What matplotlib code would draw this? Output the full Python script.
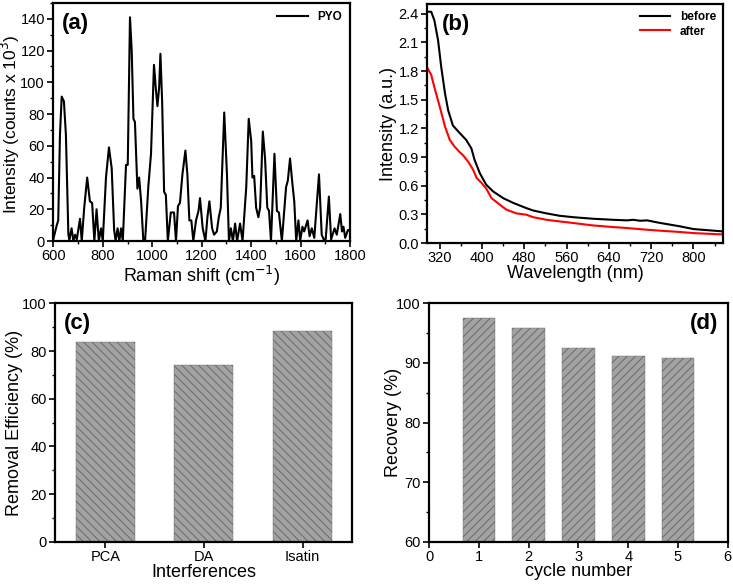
import numpy as np
import matplotlib
matplotlib.use("Agg")
import matplotlib.pyplot as plt
from matplotlib.ticker import MultipleLocator

plt.rcParams['font.family'] = ['Liberation Sans', 'DejaVu Sans']
plt.rcParams['hatch.linewidth'] = 0.7

# (a) Raman spectrum of PYO
raman_x = [600, 614, 620, 627, 634, 643, 651, 661, 665, 674, 681, 688, 695, 708, 715,
           725, 737, 748, 757, 766, 775, 784, 793, 800, 813, 825, 836, 846, 852, 860,
           867, 874, 881, 894, 901, 910, 917, 924, 930, 940, 947, 955, 964, 971, 984,
           995, 1007, 1015, 1021, 1028, 1033, 1040, 1048, 1055, 1063, 1075, 1088, 1096,
           1104, 1112, 1122, 1134, 1142, 1150, 1158, 1166, 1177, 1187, 1193, 1204, 1215,
           1223, 1231, 1242, 1250, 1261, 1269, 1277, 1291, 1302, 1310, 1318, 1326, 1335,
           1343, 1355, 1365, 1380, 1390, 1400, 1405, 1412, 1420, 1429, 1436, 1447, 1456,
           1465, 1472, 1480, 1494, 1504, 1512, 1524, 1541, 1548, 1557, 1566, 1574, 1582,
           1591, 1598, 1607, 1614, 1628, 1636, 1645, 1655, 1674, 1685, 1693, 1701, 1714,
           1723, 1737, 1746, 1760, 1767, 1773, 1780, 1791, 1800]
raman_y = [1, 10, 13, 67, 91, 88, 67, 4, 1, 8, 0, 4, 1, 14, 0,
           21, 40, 25, 24, 0, 20, 0, 8, 0, 40, 59, 46, 7, 0, 8,
           0, 8, 0, 48, 48, 141, 120, 77, 75, 33, 40, 25, 0, 0, 34,
           55, 111, 95, 85, 97, 118, 88, 31, 29, 0, 18, 18, 0,
           22, 24, 42, 57, 42, 13, 13, 0, 13, 19, 27, 8, 0,
           15, 25, 8, 4, 6, 15, 21, 81, 42, 0, 8, 0, 11,
           0, 11, 0, 34, 77, 63, 40, 41, 21, 15, 21, 69, 52,
           21, 19, 0, 55, 19, 18, 0, 34, 38, 52, 37, 25, 0,
           13, 0, 9, 6, 13, 3, 8, 2, 42, 4, 1, 1, 28,
           1, 8, 4, 17, 6, 9, 2, 7, 6]

# (b) UV-vis before / after
wl_before = [297, 304, 310, 317, 323, 330, 336, 345, 358, 370, 380, 386, 396, 408, 421,
             440, 459, 484, 497, 522, 547, 573, 610, 648, 674, 686, 699, 712, 737, 775,
             800, 832, 854]
abs_before = [2.42, 2.42, 2.33, 2.12, 1.84, 1.57, 1.39, 1.23, 1.15, 1.08, 0.99, 0.87, 0.73,
              0.61, 0.54, 0.47, 0.42, 0.365, 0.34, 0.31, 0.285, 0.27, 0.254, 0.243, 0.237,
              0.243, 0.233, 0.237, 0.21, 0.174, 0.146, 0.132, 0.122]
wl_after = [297, 304, 310, 320, 330, 339, 348, 358, 364, 374, 383, 390, 399, 408, 418,
            434, 446, 465, 484, 497, 522, 547, 573, 610, 648, 674, 712, 737, 775, 800, 854]
abs_after = [1.83, 1.76, 1.63, 1.43, 1.22, 1.08, 1.01, 0.95, 0.92, 0.85, 0.77, 0.68, 0.63,
             0.57, 0.47, 0.40, 0.35, 0.31, 0.296, 0.27, 0.243, 0.226, 0.209, 0.184, 0.167,
             0.157, 0.139, 0.129, 0.115, 0.104, 0.09]

# (c) removal efficiency
interferences = ['PCA', 'DA', 'Isatin']
removal = [83.7, 74.1, 88.2]

# (d) recovery per cycle
cycles = [1, 2, 3, 4, 5]
recovery = [97.6, 95.9, 92.5, 91.2, 90.85]

fig = plt.figure(figsize=(7.33, 5.87), dpi=100)
axa = fig.add_axes([0.0727, 0.5894, 0.405, 0.4055])
axb = fig.add_axes([0.5825, 0.586, 0.404, 0.407])
axc = fig.add_axes([0.075, 0.0772, 0.405, 0.406])
axd = fig.add_axes([0.5857, 0.0772, 0.407, 0.406])

LAB = 13
for ax in (axa, axb, axc, axd):
    for s in ax.spines.values():
        s.set_linewidth(1.6)
    ax.tick_params(which='major', direction='out', length=4, width=1.2, labelsize=10.5, pad=2)
    ax.tick_params(which='minor', direction='out', length=2, width=1.0)

# (a)
axa.plot(raman_x, raman_y, color='black', lw=1.5, label='PYO')
axa.set_xlim(600, 1800)
axa.set_ylim(0, 150)
axa.xaxis.set_major_locator(MultipleLocator(200))
axa.xaxis.set_minor_locator(MultipleLocator(100))
axa.yaxis.set_major_locator(MultipleLocator(20))
axa.yaxis.set_minor_locator(MultipleLocator(10))
axa.set_xlabel('Raman shift (cm$^{-1}$)', fontsize=LAB)
axa.set_ylabel('Intensity (counts x 10$^{3}$)', fontsize=12.5)
axa.yaxis.set_label_coords(-0.105, 0.49)
axa.xaxis.set_label_coords(0.5, -0.098)
axa.text(0.03, 0.96, '(a)', transform=axa.transAxes, fontsize=16, fontweight='bold', va='top')
axa.legend(loc='upper right', frameon=False, prop={'weight': 'bold', 'size': 8.5},
           handlelength=2.6, borderaxespad=0.3)

# (b)
axb.plot(wl_before, abs_before, color='black', lw=1.5, label='before')
axb.plot(wl_after, abs_after, color='red', lw=1.5, label='after')
axb.set_xlim(296, 856)
axb.set_ylim(0, 2.5)
axb.xaxis.set_major_locator(MultipleLocator(80))
axb.xaxis.set_minor_locator(MultipleLocator(40))
axb.yaxis.set_major_locator(MultipleLocator(0.3))
axb.yaxis.set_minor_locator(MultipleLocator(0.15))
axb.yaxis.set_major_formatter(matplotlib.ticker.FormatStrFormatter('%.1f'))
axb.set_xlabel('Wavelength (nm)', fontsize=LAB)
axb.set_ylabel('Intensity (a.u.)', fontsize=LAB)
axb.yaxis.set_label_coords(-0.101, 0.5)
axb.xaxis.set_label_coords(0.5, -0.09)
axb.text(0.05, 0.96, '(b)', transform=axb.transAxes, fontsize=16, fontweight='bold', va='top')
axb.legend(loc='upper right', frameon=False, prop={'weight': 'bold', 'size': 8.5},
           handlelength=2.6, borderaxespad=0.2, labelspacing=0.2)

# (c)
xpos = np.arange(len(interferences))
axc.bar(xpos, removal, width=0.6, color='#a2a2a2', edgecolor='#6a6a6a', lw=0.3, hatch='\\\\\\\\')
axc.set_xlim(-0.51, 2.5)
axc.set_ylim(0, 100)
axc.set_xticks(xpos)
axc.set_xticklabels(interferences)
axc.yaxis.set_major_locator(MultipleLocator(20))
axc.yaxis.set_minor_locator(MultipleLocator(10))
axc.set_xlabel('Interferences', fontsize=LAB)
axc.set_ylabel('Removal Efficiency (%)', fontsize=LAB)
axc.yaxis.set_label_coords(-0.108, 0.5)
axc.xaxis.set_label_coords(0.5, -0.092)
axc.text(0.03, 0.96, '(c)', transform=axc.transAxes, fontsize=16, fontweight='bold', va='top')

# (d)
axd.bar(cycles, recovery, width=0.66, color='#a2a2a2', edgecolor='#6a6a6a', lw=0.3, hatch='////')
axd.set_xlim(0, 6)
axd.set_ylim(60, 100)
axd.xaxis.set_major_locator(MultipleLocator(1))
axd.yaxis.set_major_locator(MultipleLocator(10))
axd.yaxis.set_minor_locator(MultipleLocator(5))
axd.set_xlabel('cycle number', fontsize=LAB)
axd.set_ylabel('Recovery (%)', fontsize=LAB)
axd.yaxis.set_label_coords(-0.09, 0.5)
axd.xaxis.set_label_coords(0.5, -0.088)
axd.text(0.97, 0.96, '(d)', transform=axd.transAxes, fontsize=16, fontweight='bold',
         va='top', ha='right')

fig.savefig('out.png', dpi=100)
